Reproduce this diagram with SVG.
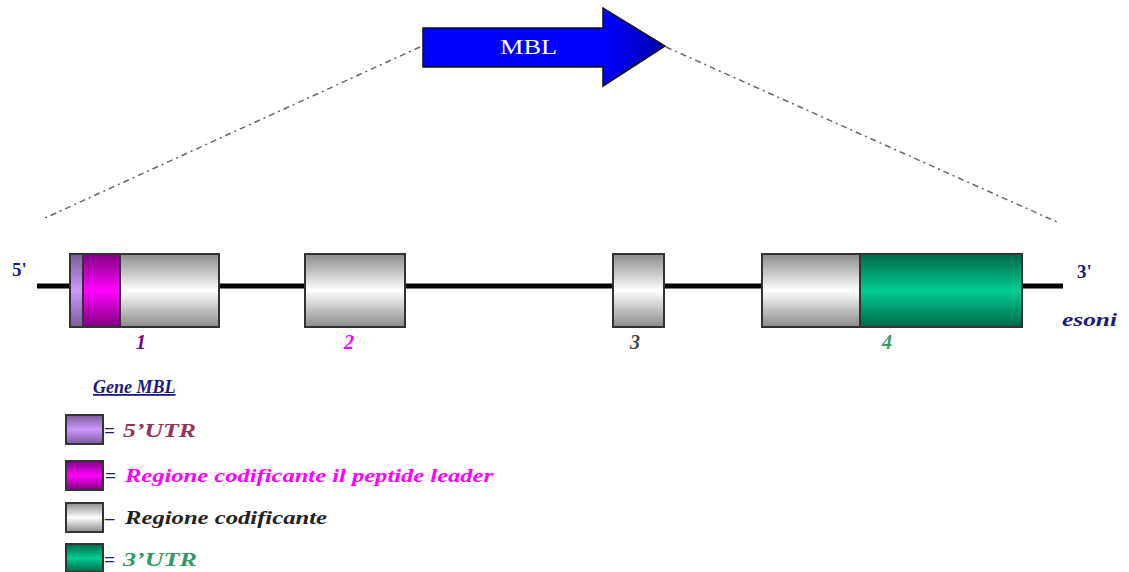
<svg xmlns="http://www.w3.org/2000/svg" width="1129" height="572" viewBox="0 0 1129 572">
  <defs>
    <linearGradient id="gGray" x1="0" y1="0" x2="0" y2="1">
      <stop offset="0" stop-color="#8a8a8a"/>
      <stop offset="0.5" stop-color="#ffffff"/>
      <stop offset="1" stop-color="#8a8a8a"/>
    </linearGradient>
    <linearGradient id="gGreen" x1="0" y1="0" x2="0" y2="1">
      <stop offset="0" stop-color="#00684a"/>
      <stop offset="0.5" stop-color="#00cc90"/>
      <stop offset="1" stop-color="#00684a"/>
    </linearGradient>
    <linearGradient id="gMagenta" x1="0" y1="0" x2="0" y2="1">
      <stop offset="0" stop-color="#800080"/>
      <stop offset="0.5" stop-color="#ff00ff"/>
      <stop offset="1" stop-color="#800080"/>
    </linearGradient>
    <linearGradient id="gPurple" x1="0" y1="0" x2="0" y2="1">
      <stop offset="0" stop-color="#7a5c99"/>
      <stop offset="0.5" stop-color="#cc99ff"/>
      <stop offset="1" stop-color="#7a5c99"/>
    </linearGradient>
    <linearGradient id="gBlue" x1="0" y1="0" x2="1" y2="0">
      <stop offset="0.75" stop-color="#0000ff"/>
      <stop offset="1" stop-color="#0000aa"/>
    </linearGradient>
  </defs>
  <style>
    .box { stroke: #333; stroke-width: 2; }
    .lbl { font-family: "Liberation Serif", serif; font-style: italic; font-weight: bold; }
    .dash { stroke: #666; stroke-width: 1.5; stroke-dasharray: 6 4 2 4; fill: none; }
  </style>
  <rect width="1129" height="572" fill="#ffffff"/>

  <!-- zoom lines from the gene arrow down to the exon map, and the strand -->
  <g id="connectors">
    <line class="dash" x1="420" y1="47" x2="45" y2="218"/>
    <line class="dash" x1="666" y1="47" x2="1057" y2="222"/>
    <line x1="37" y1="286" x2="1063" y2="286" stroke="#000" stroke-width="5"/>
  </g>

  <!-- gene arrow -->
  <g id="arrow-mbl">
    <polygon points="423,28 603,28 603,8 665,46 603,86 603,67 423,67" fill="url(#gBlue)" stroke="#111" stroke-width="1.5"/>
    <text x="500" y="54" textLength="57" lengthAdjust="spacingAndGlyphs" font-family="Liberation Serif, serif" font-size="22" fill="#ffffff">MBL</text>
  </g>

  <!-- exon 1 -->
  <g id="exon1">
    <rect class="box" x="70" y="254" width="13" height="73" fill="url(#gPurple)"/>
    <rect class="box" x="83" y="254" width="37" height="73" fill="url(#gMagenta)"/>
    <rect class="box" x="120" y="254" width="99" height="73" fill="url(#gGray)"/>
    <text class="lbl" x="141" y="349" font-size="20" fill="#800080" text-anchor="middle">1</text>
  </g>
  <!-- exon 2 -->
  <g id="exon2">
    <rect class="box" x="305" y="254" width="100" height="73" fill="url(#gGray)"/>
    <text class="lbl" x="349" y="349" font-size="20" fill="#ff00ff" text-anchor="middle">2</text>
  </g>
  <!-- exon 3 -->
  <g id="exon3">
    <rect class="box" x="613" y="254" width="51" height="73" fill="url(#gGray)"/>
    <text class="lbl" x="635" y="349" font-size="20" fill="#444444" text-anchor="middle">3</text>
  </g>
  <!-- exon 4 -->
  <g id="exon4">
    <rect class="box" x="762" y="254" width="98" height="73" fill="url(#gGray)"/>
    <rect class="box" x="860" y="254" width="162" height="73" fill="url(#gGreen)"/>
    <text class="lbl" x="887" y="349" font-size="20" fill="#3a9a6a" text-anchor="middle">4</text>
  </g>

  <!-- strand ends -->
  <g id="ends">
    <text x="12" y="276" font-family="Liberation Serif, serif" font-weight="bold" font-size="19" fill="#1a1a80">5'</text>
    <text x="1077" y="278" font-family="Liberation Serif, serif" font-weight="bold" font-size="19" fill="#1a1a80">3'</text>
    <text class="lbl" x="1062" y="326" font-size="18" textLength="55" lengthAdjust="spacingAndGlyphs" fill="#1a1a80">esoni</text>
  </g>

  <!-- legend -->
  <g id="legend">
    <text class="lbl" x="93" y="393" font-size="18" fill="#1a1a80" text-decoration="underline">Gene MBL</text>
    <rect class="box" x="66" y="415" width="37" height="29" fill="url(#gPurple)"/>
    <text class="lbl" x="104" y="437" font-size="19" fill="#1a1a80">=</text>
    <text class="lbl" x="123" y="437" font-size="19" textLength="73" lengthAdjust="spacingAndGlyphs" fill="#993355">5’UTR</text>
    <rect class="box" x="66" y="461" width="37" height="29" fill="url(#gMagenta)"/>
    <text class="lbl" x="105" y="482" font-size="19" fill="#1a1a80">=</text>
    <text class="lbl" x="125" y="482" font-size="19" textLength="368" lengthAdjust="spacingAndGlyphs" fill="#ff00ff">Regione codificante il peptide leader</text>
    <rect class="box" x="66" y="503" width="37" height="29" fill="url(#gGray)"/>
    <text class="lbl" x="105" y="524" font-size="19" fill="#1a1a80">–</text>
    <text class="lbl" x="125" y="524" font-size="19" textLength="202" lengthAdjust="spacingAndGlyphs" fill="#222222">Regione codificante</text>
    <rect class="box" x="66" y="544" width="37" height="28" fill="url(#gGreen)"/>
    <text class="lbl" x="104" y="566" font-size="19" fill="#1a1a80">=</text>
    <text class="lbl" x="123" y="566" font-size="19" textLength="74" lengthAdjust="spacingAndGlyphs" fill="#339966">3’UTR</text>
  </g>
</svg>
